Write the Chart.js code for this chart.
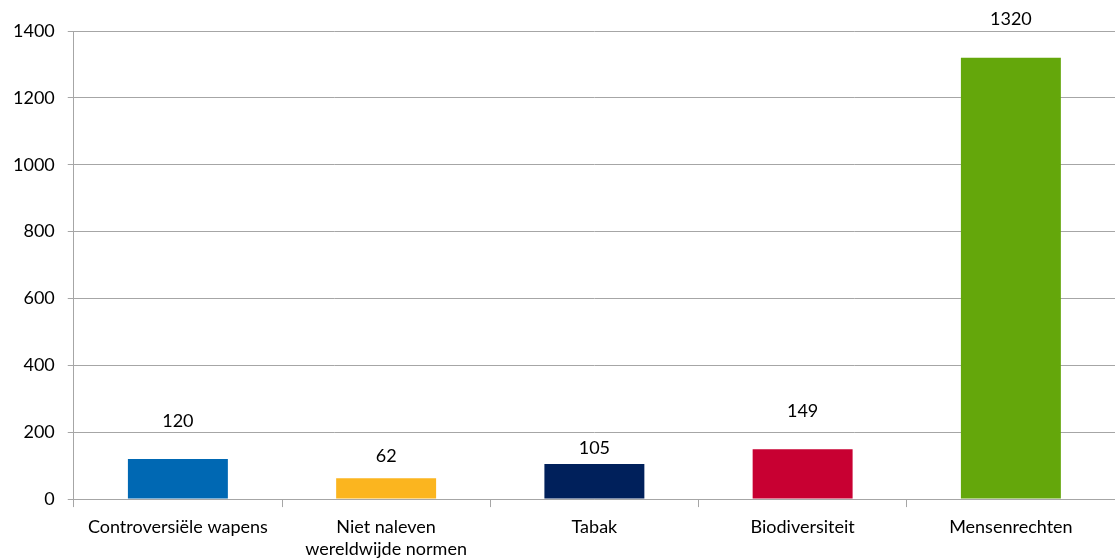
<!DOCTYPE html>
<html>
<head>
<meta charset="utf-8">
<script src="https://cdn.jsdelivr.net/npm/chart.js@4/dist/chart.umd.min.js"></script>
<style>
  html, body { margin: 0; padding: 0; background: #fff; }
  #wrap { width: 1115px; height: 560px; }
</style>
</head>
<body>
<div id="wrap"><canvas id="grafiek"></canvas></div>
<script>
// categorieen en waarden
var categories = ['Controversiële wapens', ['Niet naleven', 'wereldwijde normen'], 'Tabak', 'Biodiversiteit', 'Mensenrechten'];
var values = [120, 62, 105, 149, 1320];
var barColors = ['#0068b3', '#fbb51f', '#00205b', '#c80032', '#64a70b'];
var yTicks = [0, 200, 400, 600, 800, 1000, 1200, 1400];

// afstand van label boven de balk (zoals in het origineel, niet overal gelijk)
var labelGaps = [38, 22, 16, 38, 39];

var waardeLabels = {
  id: 'waardeLabels',
  afterDatasetsDraw: function (chart) {
    var ctx = chart.ctx;
    var meta = chart.getDatasetMeta(0);
    ctx.save();
    ctx.font = '18px Lato';
    ctx.fillStyle = '#000';
    ctx.textAlign = 'center';
    ctx.textBaseline = 'middle';
    meta.data.forEach(function (bar, i) {
      ctx.fillText(values[i], bar.x, bar.y - labelGaps[i]);
    });
    ctx.restore();
  }
};

var ctx = document.getElementById('grafiek').getContext('2d');
var chart = new Chart(ctx, {
  type: 'bar',
  data: {
    labels: categories,
    datasets: [{
      data: values,
      backgroundColor: barColors,
      borderWidth: 0,
      barPercentage: 0.48,
      categoryPercentage: 1
    }]
  },
  options: {
    responsive: true,
    maintainAspectRatio: false,
    animation: false,
    layout: { padding: { top: 31, right: 0, left: 0, bottom: -9 } },
    plugins: {
      legend: { display: false },
      tooltip: { enabled: false }
    },
    scales: {
      x: {
        grid: { display: true, drawOnChartArea: false, color: '#a6a6a6', tickLength: 8, offset: true },
        border: { color: '#a6a6a6' },
        ticks: { color: '#000', font: { family: 'Lato', size: 18, lineHeight: 1.22 }, padding: 9, maxRotation: 0, autoSkip: false }
      },
      y: {
        min: 0,
        max: 1400,
        afterBuildTicks: function (axis) {
          axis.ticks = yTicks.map(function (v) { return { value: v }; });
        },
        grid: { color: '#a6a6a6', tickLength: 6 },
        border: { color: '#a6a6a6' },
        ticks: {
          color: '#000', font: { family: 'Lato', size: 18 }, padding: 13,
          callback: function (v) { return String(v); }
        }
      }
    }
  },
  plugins: [waardeLabels]
});
</script>
</body>
</html>
